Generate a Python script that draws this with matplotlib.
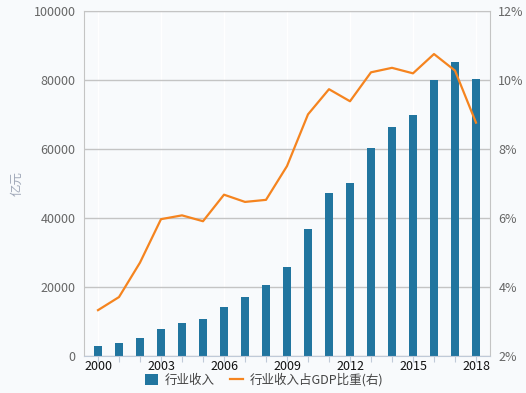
import matplotlib
matplotlib.use("Agg")
import matplotlib.pyplot as plt
import numpy as np

plt.rcParams['font.family'] = ['Noto Sans CJK SC', 'DejaVu Sans']

years = list(range(2000, 2019))
revenue = [2900, 3800, 5200, 7800, 9600, 10700, 14200, 17100, 20600, 25800,
           36800, 47300, 50200, 60300, 66400, 69900, 80000, 85300, 80400]
share = [3.33, 3.71, 4.71, 5.97, 6.08, 5.91, 6.68, 6.47, 6.53, 7.51,
         9.01, 9.74, 9.39, 10.23, 10.36, 10.20, 10.76, 10.28, 8.77]
xtick_years = [2000, 2003, 2006, 2009, 2012, 2015, 2018]
bar_label = '行业收入'
line_label = '行业收入占GDP比重(右)'
ylabel = '亿元'

bg = '#f8fafc'
bar_color = '#21759f'
line_color = '#f5841f'

fig = plt.figure(figsize=(5.26, 3.93), dpi=100, facecolor=bg)
ax = fig.add_axes([84/526, 1-356/393, (490-84)/526, (356-11.3)/393])
ax.set_facecolor(bg)
x = np.arange(len(years))
bars = ax.bar(x, revenue, width=0.38, color=bar_color, label=bar_label, zorder=2)
ax.set_xlim(-0.667, len(years) - 1 + 0.667)
ax.set_ylim(0, 100000)
ax.set_yticks(np.arange(0, 100001, 20000))
ax.set_yticklabels([str(v) for v in range(0, 100001, 20000)])
ax.set_xticks(x)
ax.set_xticklabels([str(y) if y in xtick_years else '' for y in years])
ax.grid(axis='y', color='#c4c4c4', linewidth=1, zorder=0)
for xv in x[::3]:
    ax.axvline(xv, color='#ffffff', linewidth=1, zorder=0.5)
ax.tick_params(axis='y', length=0, colors='#666666', labelsize=9, pad=6)
ax.tick_params(axis='x', length=4, color='#c0cad8', labelcolor='#111111', labelsize=9, pad=-1)
for s in ['left', 'top', 'right']:
    ax.spines[s].set_color('#c4c4c4')
ax.spines['bottom'].set_color('#c0cad8')
ax.set_ylabel(ylabel, color='#a0a8b8', fontsize=9)
ax.yaxis.set_label_coords(-0.150, (356-184)/(356-11.3))

ax2 = ax.twinx()
ln, = ax2.plot(x, share, color=line_color, linewidth=1.6, label=line_label, zorder=3)
ax2.set_ylim(2, 12)
ax2.set_yticks(np.arange(2, 13, 2))
ax2.set_yticklabels([f'{v}%' for v in range(2, 13, 2)])
ax2.tick_params(axis='y', length=0, colors='#666666', labelsize=9, pad=6)
for s in ax2.spines.values():
    s.set_visible(False)

fig.legend([bars, ln], [bar_label, line_label], loc='center', bbox_to_anchor=(264/526, 1-380/393),
           ncol=2, frameon=False, fontsize=9, handlelength=1.1, handleheight=1.0,
           columnspacing=1.2, handletextpad=0.5, labelcolor='#444444')

fig.savefig('out.png', dpi=100, facecolor=bg)
